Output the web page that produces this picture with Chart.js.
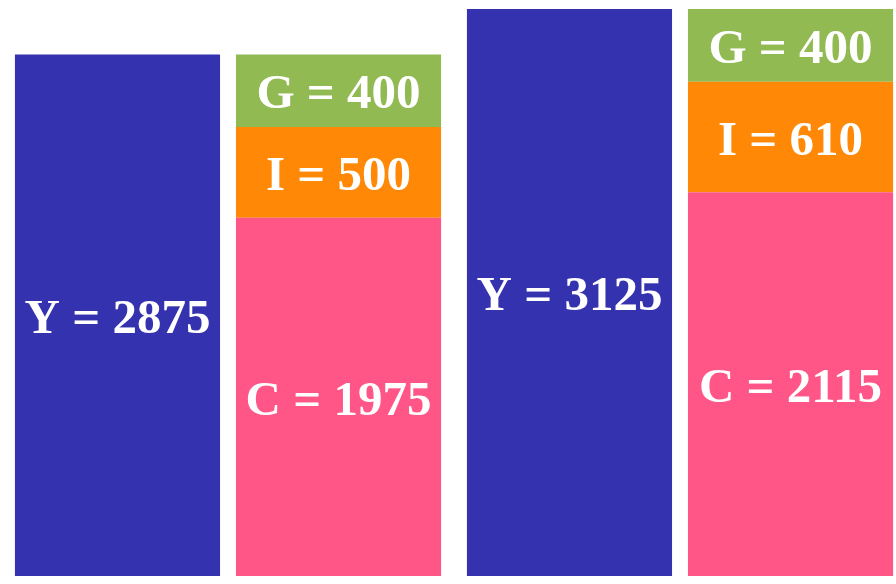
<!DOCTYPE html>
<html>
<head>
<meta charset="utf-8">
<script src="https://cdn.jsdelivr.net/npm/chart.js@4.4.1/dist/chart.umd.min.js"></script>
<style>
  html, body { margin: 0; padding: 0; background: #fff; overflow: hidden; }
  #wrap { position: relative; width: 908px; height: 584px; }
</style>
</head>
<body>
<div id="wrap"><canvas id="chart1"></canvas></div>
<script>
const categories = ["Period 1", "Period 2"];
const yValues = [2875, 3125];
const cValues = [1975, 2115];
const iValues = [500, 610];
const gValues = [400, 400];

const cht1 = document.getElementById("chart1");

// writes "Y = 2875" etc. in the middle of each bar piece
const barLabels = {
  id: "barLabels",
  afterDatasetsDraw(chart) {
    const ctx = chart.ctx;
    ctx.save();
    ctx.fillStyle = "#ffffff";
    ctx.font = "bold 49px 'Liberation Serif'";
    ctx.textAlign = "center";
    ctx.textBaseline = "middle";
    chart.data.datasets.forEach((ds, i) => {
      const meta = chart.getDatasetMeta(i);
      meta.data.forEach((bar, j) => {
        const mid = (bar.y + bar.base) / 2;
        ctx.fillText(ds.label + " = " + ds.data[j], bar.x, mid + 5);
      });
    });
    ctx.restore();
  },
};

new Chart(cht1, {
  type: "bar",
  data: {
    labels: categories,
    datasets: [
      { label: "Y", data: yValues, backgroundColor: "#3432AF", stack: "a" },
      { label: "C", data: cValues, backgroundColor: "#FF5587", stack: "b" },
      { label: "I", data: iValues, backgroundColor: "#FF8807", stack: "b" },
      { label: "G", data: gValues, backgroundColor: "#92BA53", stack: "b" },
    ],
  },
  options: {
    responsive: true,
    maintainAspectRatio: false,
    animation: false,
    categoryPercentage: 0.978,
    barPercentage: 0.928,
    layout: { padding: { left: 2, right: 2, top: 0, bottom: 8 } },
    plugins: { legend: { display: false }, tooltip: { enabled: false } },
    scales: {
      x: { display: false, stacked: true },
      y: { display: false, stacked: true, min: 0, max: 3175 },
    },
  },
  plugins: [barLabels],
});
</script>
</body>
</html>
